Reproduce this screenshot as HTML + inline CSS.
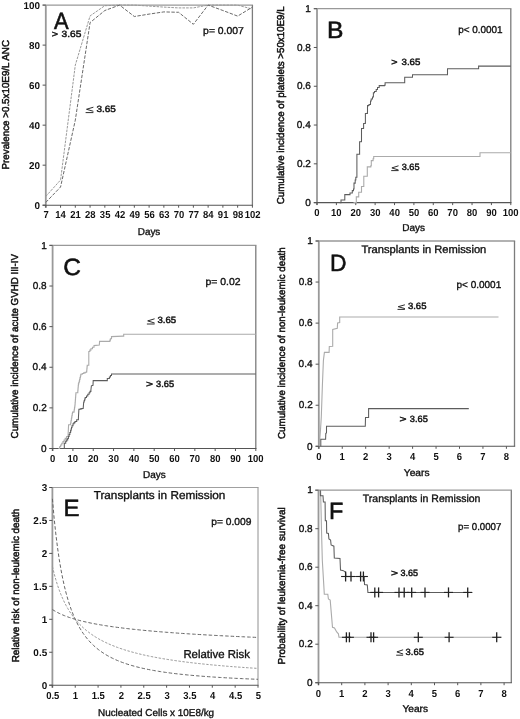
<!DOCTYPE html><html><head><meta charset="utf-8"><style>html,body{margin:0;padding:0;background:#fff;}svg{display:block;filter:blur(0.4px);}text{font-family:"Liberation Sans",sans-serif;text-rendering:geometricPrecision;}</style></head><body>
<svg width="520" height="719" viewBox="0 0 520 719">
<rect width="520" height="719" fill="#fff"/>
<line x1="42.60" y1="5.10" x2="253.05" y2="5.10" stroke="#999999" stroke-width="1.3" />
<line x1="252.40" y1="5.10" x2="252.40" y2="205.20" stroke="#7c7c7c" stroke-width="1.3" />
<line x1="45.80" y1="5.10" x2="45.80" y2="207.70" stroke="#999999" stroke-width="1.8" />
<line x1="42.60" y1="205.20" x2="253.05" y2="205.20" stroke="#555555" stroke-width="1.1" />
<line x1="45.80" y1="205.20" x2="45.80" y2="207.70" stroke="#555" stroke-width="1" />
<text x="43.47" y="218.40" font-size="10.2" font-weight="bold" fill="#111" textLength="5.28" lengthAdjust="spacingAndGlyphs">7</text>
<line x1="60.56" y1="205.20" x2="60.56" y2="207.70" stroke="#555" stroke-width="1" />
<text x="55.31" y="218.40" font-size="10.2" font-weight="bold" fill="#111" textLength="10.55" lengthAdjust="spacingAndGlyphs">14</text>
<line x1="75.31" y1="205.20" x2="75.31" y2="207.70" stroke="#555" stroke-width="1" />
<text x="70.30" y="218.40" font-size="10.2" font-weight="bold" fill="#111" textLength="10.55" lengthAdjust="spacingAndGlyphs">21</text>
<line x1="90.07" y1="205.20" x2="90.07" y2="207.70" stroke="#555" stroke-width="1" />
<text x="85.08" y="218.40" font-size="10.2" font-weight="bold" fill="#111" textLength="10.55" lengthAdjust="spacingAndGlyphs">28</text>
<line x1="104.83" y1="205.20" x2="104.83" y2="207.70" stroke="#555" stroke-width="1" />
<text x="99.86" y="218.40" font-size="10.2" font-weight="bold" fill="#111" textLength="10.55" lengthAdjust="spacingAndGlyphs">35</text>
<line x1="119.59" y1="205.20" x2="119.59" y2="207.70" stroke="#555" stroke-width="1" />
<text x="114.74" y="218.40" font-size="10.2" font-weight="bold" fill="#111" textLength="10.55" lengthAdjust="spacingAndGlyphs">42</text>
<line x1="134.34" y1="205.20" x2="134.34" y2="207.70" stroke="#555" stroke-width="1" />
<text x="129.47" y="218.40" font-size="10.2" font-weight="bold" fill="#111" textLength="10.55" lengthAdjust="spacingAndGlyphs">49</text>
<line x1="149.10" y1="205.20" x2="149.10" y2="207.70" stroke="#555" stroke-width="1" />
<text x="144.16" y="218.40" font-size="10.2" font-weight="bold" fill="#111" textLength="10.55" lengthAdjust="spacingAndGlyphs">56</text>
<line x1="163.86" y1="205.20" x2="163.86" y2="207.70" stroke="#555" stroke-width="1" />
<text x="158.89" y="218.40" font-size="10.2" font-weight="bold" fill="#111" textLength="10.55" lengthAdjust="spacingAndGlyphs">63</text>
<line x1="178.61" y1="205.20" x2="178.61" y2="207.70" stroke="#555" stroke-width="1" />
<text x="173.63" y="218.40" font-size="10.2" font-weight="bold" fill="#111" textLength="10.55" lengthAdjust="spacingAndGlyphs">70</text>
<line x1="193.37" y1="205.20" x2="193.37" y2="207.70" stroke="#555" stroke-width="1" />
<text x="188.41" y="218.40" font-size="10.2" font-weight="bold" fill="#111" textLength="10.55" lengthAdjust="spacingAndGlyphs">77</text>
<line x1="208.13" y1="205.20" x2="208.13" y2="207.70" stroke="#555" stroke-width="1" />
<text x="203.05" y="218.40" font-size="10.2" font-weight="bold" fill="#111" textLength="10.55" lengthAdjust="spacingAndGlyphs">84</text>
<line x1="222.89" y1="205.20" x2="222.89" y2="207.70" stroke="#555" stroke-width="1" />
<text x="217.87" y="218.40" font-size="10.2" font-weight="bold" fill="#111" textLength="10.55" lengthAdjust="spacingAndGlyphs">91</text>
<line x1="237.64" y1="205.20" x2="237.64" y2="207.70" stroke="#555" stroke-width="1" />
<text x="232.65" y="218.40" font-size="10.2" font-weight="bold" fill="#111" textLength="10.55" lengthAdjust="spacingAndGlyphs">98</text>
<line x1="252.40" y1="205.20" x2="252.40" y2="207.70" stroke="#555" stroke-width="1" />
<text x="244.68" y="218.40" font-size="10.2" font-weight="bold" fill="#111" textLength="15.83" lengthAdjust="spacingAndGlyphs">102</text>
<line x1="42.60" y1="205.20" x2="45.80" y2="205.20" stroke="#555" stroke-width="1" />
<text x="34.50" y="208.60" font-size="9.9" font-weight="bold" fill="#111" textLength="5.51" lengthAdjust="spacingAndGlyphs">0</text>
<line x1="42.60" y1="165.18" x2="45.80" y2="165.18" stroke="#555" stroke-width="1" />
<text x="29.01" y="168.58" font-size="9.9" font-weight="bold" fill="#111" textLength="11.01" lengthAdjust="spacingAndGlyphs">20</text>
<line x1="42.60" y1="125.16" x2="45.80" y2="125.16" stroke="#555" stroke-width="1" />
<text x="29.01" y="128.56" font-size="9.9" font-weight="bold" fill="#111" textLength="11.01" lengthAdjust="spacingAndGlyphs">40</text>
<line x1="42.60" y1="85.14" x2="45.80" y2="85.14" stroke="#555" stroke-width="1" />
<text x="29.01" y="88.54" font-size="9.9" font-weight="bold" fill="#111" textLength="11.01" lengthAdjust="spacingAndGlyphs">60</text>
<line x1="42.60" y1="45.12" x2="45.80" y2="45.12" stroke="#555" stroke-width="1" />
<text x="29.01" y="48.52" font-size="9.9" font-weight="bold" fill="#111" textLength="11.01" lengthAdjust="spacingAndGlyphs">80</text>
<line x1="42.60" y1="5.10" x2="45.80" y2="5.10" stroke="#555" stroke-width="1" />
<text x="23.51" y="8.50" font-size="9.9" font-weight="bold" fill="#111" textLength="16.52" lengthAdjust="spacingAndGlyphs">100</text>
<path d="M45.80,196.40 L60.56,179.99 L75.31,65.13 L90.07,15.91 L104.83,5.70 L119.59,5.10 L134.34,5.10 L149.10,6.10 L163.86,7.10 L178.61,7.90 L193.37,7.90 L208.13,5.10 L222.89,5.10 L237.64,5.10 L252.40,9.10" fill="none" stroke="#9a9a9a" stroke-width="1.0" stroke-dasharray="2.6 1.1"/>
<path d="M45.80,202.40 L60.56,186.99 L75.31,120.16 L90.07,22.61 L104.83,10.50 L119.59,5.10 L134.34,16.51 L149.10,14.10 L163.86,11.90 L178.61,12.30 L193.37,24.31 L208.13,5.10 L222.89,10.50 L237.64,16.11 L252.40,7.10" fill="none" stroke="#6a6a6a" stroke-width="1.0" stroke-dasharray="3.4 1.5"/>
<text x="53.99" y="28.60" font-size="23.5" fill="#111" stroke="#111" stroke-width="0.55" textLength="14.65" lengthAdjust="spacingAndGlyphs">A</text>
<text x="51.86" y="36.60" font-size="9.0" fill="#111" stroke="#111" stroke-width="0.45" textLength="6.26" lengthAdjust="spacingAndGlyphs">&gt;</text>
<text x="61.59" y="36.60" font-size="9.0" fill="#111" stroke="#111" stroke-width="0.45" textLength="19.83" lengthAdjust="spacingAndGlyphs">3.65</text>
<path d="M93.40,107.20 L86.50,109.25 L93.40,111.30" fill="none" stroke="#222" stroke-width="0.95" stroke-linejoin="miter"/>
<line x1="85.60" y1="112.60" x2="93.40" y2="112.60" stroke="#222" stroke-width="0.95"/>
<text x="96.50" y="111.80" font-size="9.0" fill="#111" stroke="#111" stroke-width="0.45" textLength="19.41" lengthAdjust="spacingAndGlyphs">3.65</text>
<text x="203.13" y="33.60" font-size="10" fill="#111" stroke="#111" stroke-width="0.35" textLength="40.70" lengthAdjust="spacingAndGlyphs">p= 0.007</text>
<text x="137.81" y="234.60" font-size="10" fill="#111" stroke="#111" stroke-width="0.35" textLength="22.52" lengthAdjust="spacingAndGlyphs">Days</text>
<text transform="translate(9.00,169.48) rotate(-90)" x="0" y="0" font-size="10" fill="#111" stroke="#111" stroke-width="0.5" textLength="129.49" lengthAdjust="spacingAndGlyphs">Prevalence &gt;0.5x10E9/L ANC</text>
<line x1="313.80" y1="8.70" x2="511.45" y2="8.70" stroke="#999999" stroke-width="1.3" />
<line x1="510.80" y1="8.70" x2="510.80" y2="202.60" stroke="#7c7c7c" stroke-width="1.3" />
<line x1="317.00" y1="8.70" x2="317.00" y2="205.10" stroke="#999999" stroke-width="1.8" />
<line x1="313.80" y1="202.60" x2="511.45" y2="202.60" stroke="#555555" stroke-width="1.1" />
<line x1="317.00" y1="202.60" x2="317.00" y2="205.10" stroke="#555" stroke-width="1" />
<text x="314.37" y="215.60" font-size="10.2" font-weight="bold" fill="#111" textLength="5.28" lengthAdjust="spacingAndGlyphs">0</text>
<line x1="336.38" y1="202.60" x2="336.38" y2="205.10" stroke="#555" stroke-width="1" />
<text x="331.00" y="215.60" font-size="10.2" font-weight="bold" fill="#111" textLength="10.55" lengthAdjust="spacingAndGlyphs">10</text>
<line x1="355.76" y1="202.60" x2="355.76" y2="205.10" stroke="#555" stroke-width="1" />
<text x="350.52" y="215.60" font-size="10.2" font-weight="bold" fill="#111" textLength="10.55" lengthAdjust="spacingAndGlyphs">20</text>
<line x1="375.14" y1="202.60" x2="375.14" y2="205.10" stroke="#555" stroke-width="1" />
<text x="369.95" y="215.60" font-size="10.2" font-weight="bold" fill="#111" textLength="10.55" lengthAdjust="spacingAndGlyphs">30</text>
<line x1="394.52" y1="202.60" x2="394.52" y2="205.10" stroke="#555" stroke-width="1" />
<text x="389.37" y="215.60" font-size="10.2" font-weight="bold" fill="#111" textLength="10.55" lengthAdjust="spacingAndGlyphs">40</text>
<line x1="413.90" y1="202.60" x2="413.90" y2="205.10" stroke="#555" stroke-width="1" />
<text x="408.68" y="215.60" font-size="10.2" font-weight="bold" fill="#111" textLength="10.55" lengthAdjust="spacingAndGlyphs">50</text>
<line x1="433.28" y1="202.60" x2="433.28" y2="205.10" stroke="#555" stroke-width="1" />
<text x="428.04" y="215.60" font-size="10.2" font-weight="bold" fill="#111" textLength="10.55" lengthAdjust="spacingAndGlyphs">60</text>
<line x1="452.66" y1="202.60" x2="452.66" y2="205.10" stroke="#555" stroke-width="1" />
<text x="447.37" y="215.60" font-size="10.2" font-weight="bold" fill="#111" textLength="10.55" lengthAdjust="spacingAndGlyphs">70</text>
<line x1="472.04" y1="202.60" x2="472.04" y2="205.10" stroke="#555" stroke-width="1" />
<text x="466.82" y="215.60" font-size="10.2" font-weight="bold" fill="#111" textLength="10.55" lengthAdjust="spacingAndGlyphs">80</text>
<line x1="491.42" y1="202.60" x2="491.42" y2="205.10" stroke="#555" stroke-width="1" />
<text x="486.18" y="215.60" font-size="10.2" font-weight="bold" fill="#111" textLength="10.55" lengthAdjust="spacingAndGlyphs">90</text>
<line x1="510.80" y1="202.60" x2="510.80" y2="205.10" stroke="#555" stroke-width="1" />
<text x="502.78" y="215.60" font-size="10.2" font-weight="bold" fill="#111" textLength="15.83" lengthAdjust="spacingAndGlyphs">100</text>
<line x1="313.80" y1="202.60" x2="317.00" y2="202.60" stroke="#555" stroke-width="1" />
<text x="305.25" y="205.80" font-size="10" fill="#111" stroke="#111" stroke-width="0.35" textLength="5.56" lengthAdjust="spacingAndGlyphs">0</text>
<line x1="313.80" y1="163.82" x2="317.00" y2="163.82" stroke="#555" stroke-width="1" />
<text x="297.00" y="167.02" font-size="10" fill="#111" stroke="#111" stroke-width="0.35" textLength="13.90" lengthAdjust="spacingAndGlyphs">0.2</text>
<line x1="313.80" y1="125.04" x2="317.00" y2="125.04" stroke="#555" stroke-width="1" />
<text x="296.80" y="128.24" font-size="10" fill="#111" stroke="#111" stroke-width="0.35" textLength="13.90" lengthAdjust="spacingAndGlyphs">0.4</text>
<line x1="313.80" y1="86.26" x2="317.00" y2="86.26" stroke="#555" stroke-width="1" />
<text x="296.95" y="89.46" font-size="10" fill="#111" stroke="#111" stroke-width="0.35" textLength="13.90" lengthAdjust="spacingAndGlyphs">0.6</text>
<line x1="313.80" y1="47.48" x2="317.00" y2="47.48" stroke="#555" stroke-width="1" />
<text x="296.90" y="50.68" font-size="10" fill="#111" stroke="#111" stroke-width="0.35" textLength="13.90" lengthAdjust="spacingAndGlyphs">0.8</text>
<line x1="313.80" y1="8.70" x2="317.00" y2="8.70" stroke="#555" stroke-width="1" />
<text x="305.35" y="11.90" font-size="10" fill="#111" stroke="#111" stroke-width="0.35" textLength="5.56" lengthAdjust="spacingAndGlyphs">1</text>
<path d="M353.50,202.60 L356.30,202.60 L356.30,196.90 L358.70,196.90 L358.70,192.30 L361.50,192.30 L361.50,186.50 L363.80,186.50 L363.80,185.00 L363.80,176.20 L366.70,176.20 L367.30,176.20 L367.30,166.90 L370.80,166.90 L370.80,165.80 L371.30,165.80 L371.30,160.60 L373.10,160.60 L373.10,158.80 L373.70,158.80 L373.70,156.50 L480.00,156.50 L480.00,152.80 L510.80,152.80" fill="none" stroke="#ababab" stroke-width="1.1" />
<path d="M339.60,202.60 L341.00,202.60 L341.00,200.00 L344.80,200.00 L344.80,194.60 L348.80,194.60 L350.00,194.60 L350.00,193.00 L352.30,193.00 L352.30,190.60 L353.50,190.60 L353.50,189.00 L354.00,189.00 L354.00,183.10 L355.20,183.10 L355.20,180.00 L355.80,180.00 L355.80,177.30 L356.90,177.30 L356.90,176.20 L356.90,154.20 L359.60,154.20 L359.60,141.80 L361.30,141.80 L361.30,141.50 L361.50,141.50 L361.50,128.50 L363.40,128.50 L363.40,128.20 L363.60,128.20 L363.60,123.50 L365.20,123.50 L365.20,123.20 L365.40,123.20 L365.40,113.40 L367.30,113.40 L367.30,113.10 L367.50,113.10 L367.50,105.60 L368.50,105.60 L368.50,105.00 L369.50,105.00 L369.50,104.50 L370.50,104.50 L370.50,101.00 L371.20,101.00 L371.20,99.00 L372.50,99.00 L372.50,97.00 L373.40,97.00 L373.40,92.80 L374.50,92.80 L374.50,91.50 L376.20,91.50 L376.20,89.50 L377.50,89.50 L377.50,87.50 L379.20,87.50 L379.20,85.60 L384.50,85.60 L384.50,85.20 L385.10,85.20 L385.10,82.80 L404.70,82.80 L404.70,77.30 L412.50,77.30 L412.50,74.70 L447.50,74.70 L447.50,68.70 L478.60,68.70 L478.60,66.10 L510.80,66.10" fill="none" stroke="#5c5c5c" stroke-width="1.05" />
<text x="327.03" y="38.20" font-size="23.5" fill="#111" stroke="#111" stroke-width="0.55" textLength="16.46" lengthAdjust="spacingAndGlyphs">B</text>
<text x="458.15" y="32.70" font-size="10" fill="#111" stroke="#111" stroke-width="0.35" textLength="44.46" lengthAdjust="spacingAndGlyphs">p&lt; 0.0001</text>
<text x="391.26" y="64.70" font-size="9.0" fill="#111" stroke="#111" stroke-width="0.45" textLength="6.26" lengthAdjust="spacingAndGlyphs">&gt;</text>
<text x="401.51" y="64.70" font-size="9.0" fill="#111" stroke="#111" stroke-width="0.45" textLength="18.89" lengthAdjust="spacingAndGlyphs">3.65</text>
<path d="M398.50,165.80 L391.90,167.90 L398.50,170.00" fill="none" stroke="#222" stroke-width="0.95" stroke-linejoin="miter"/>
<line x1="391.20" y1="170.60" x2="398.50" y2="170.60" stroke="#222" stroke-width="0.95"/>
<text x="401.73" y="169.80" font-size="9.0" fill="#111" stroke="#111" stroke-width="0.45" textLength="17.85" lengthAdjust="spacingAndGlyphs">3.65</text>
<text x="402.30" y="231.20" font-size="10" fill="#111" stroke="#111" stroke-width="0.35" textLength="22.84" lengthAdjust="spacingAndGlyphs">Days</text>
<text transform="translate(283.80,204.29) rotate(-90)" x="0" y="0" font-size="10" fill="#111" stroke="#111" stroke-width="0.5" textLength="198.01" lengthAdjust="spacingAndGlyphs">Cumulative incidence of platelets &gt;50x10E9/L</text>
<line x1="49.40" y1="245.40" x2="256.45" y2="245.40" stroke="#999999" stroke-width="1.3" />
<line x1="255.80" y1="245.40" x2="255.80" y2="448.50" stroke="#7c7c7c" stroke-width="1.3" />
<line x1="52.60" y1="245.40" x2="52.60" y2="451.00" stroke="#999999" stroke-width="1.8" />
<line x1="49.40" y1="448.50" x2="256.45" y2="448.50" stroke="#555555" stroke-width="1.1" />
<line x1="52.60" y1="448.50" x2="52.60" y2="451.00" stroke="#555" stroke-width="1" />
<text x="49.97" y="462.00" font-size="10.2" font-weight="bold" fill="#111" textLength="5.28" lengthAdjust="spacingAndGlyphs">0</text>
<line x1="72.92" y1="448.50" x2="72.92" y2="451.00" stroke="#555" stroke-width="1" />
<text x="67.54" y="462.00" font-size="10.2" font-weight="bold" fill="#111" textLength="10.55" lengthAdjust="spacingAndGlyphs">10</text>
<line x1="93.24" y1="448.50" x2="93.24" y2="451.00" stroke="#555" stroke-width="1" />
<text x="88.00" y="462.00" font-size="10.2" font-weight="bold" fill="#111" textLength="10.55" lengthAdjust="spacingAndGlyphs">20</text>
<line x1="113.56" y1="448.50" x2="113.56" y2="451.00" stroke="#555" stroke-width="1" />
<text x="108.37" y="462.00" font-size="10.2" font-weight="bold" fill="#111" textLength="10.55" lengthAdjust="spacingAndGlyphs">30</text>
<line x1="133.88" y1="448.50" x2="133.88" y2="451.00" stroke="#555" stroke-width="1" />
<text x="128.73" y="462.00" font-size="10.2" font-weight="bold" fill="#111" textLength="10.55" lengthAdjust="spacingAndGlyphs">40</text>
<line x1="154.20" y1="448.50" x2="154.20" y2="451.00" stroke="#555" stroke-width="1" />
<text x="148.98" y="462.00" font-size="10.2" font-weight="bold" fill="#111" textLength="10.55" lengthAdjust="spacingAndGlyphs">50</text>
<line x1="174.52" y1="448.50" x2="174.52" y2="451.00" stroke="#555" stroke-width="1" />
<text x="169.28" y="462.00" font-size="10.2" font-weight="bold" fill="#111" textLength="10.55" lengthAdjust="spacingAndGlyphs">60</text>
<line x1="194.84" y1="448.50" x2="194.84" y2="451.00" stroke="#555" stroke-width="1" />
<text x="189.55" y="462.00" font-size="10.2" font-weight="bold" fill="#111" textLength="10.55" lengthAdjust="spacingAndGlyphs">70</text>
<line x1="215.16" y1="448.50" x2="215.16" y2="451.00" stroke="#555" stroke-width="1" />
<text x="209.94" y="462.00" font-size="10.2" font-weight="bold" fill="#111" textLength="10.55" lengthAdjust="spacingAndGlyphs">80</text>
<line x1="235.48" y1="448.50" x2="235.48" y2="451.00" stroke="#555" stroke-width="1" />
<text x="230.24" y="462.00" font-size="10.2" font-weight="bold" fill="#111" textLength="10.55" lengthAdjust="spacingAndGlyphs">90</text>
<line x1="255.80" y1="448.50" x2="255.80" y2="451.00" stroke="#555" stroke-width="1" />
<text x="247.78" y="462.00" font-size="10.2" font-weight="bold" fill="#111" textLength="15.83" lengthAdjust="spacingAndGlyphs">100</text>
<line x1="49.40" y1="448.50" x2="52.60" y2="448.50" stroke="#555" stroke-width="1" />
<text x="41.05" y="451.70" font-size="10" fill="#111" stroke="#111" stroke-width="0.35" textLength="5.56" lengthAdjust="spacingAndGlyphs">0</text>
<line x1="49.40" y1="407.88" x2="52.60" y2="407.88" stroke="#555" stroke-width="1" />
<text x="32.80" y="411.08" font-size="10" fill="#111" stroke="#111" stroke-width="0.35" textLength="13.90" lengthAdjust="spacingAndGlyphs">0.2</text>
<line x1="49.40" y1="367.26" x2="52.60" y2="367.26" stroke="#555" stroke-width="1" />
<text x="32.60" y="370.46" font-size="10" fill="#111" stroke="#111" stroke-width="0.35" textLength="13.90" lengthAdjust="spacingAndGlyphs">0.4</text>
<line x1="49.40" y1="326.64" x2="52.60" y2="326.64" stroke="#555" stroke-width="1" />
<text x="32.75" y="329.84" font-size="10" fill="#111" stroke="#111" stroke-width="0.35" textLength="13.90" lengthAdjust="spacingAndGlyphs">0.6</text>
<line x1="49.40" y1="286.02" x2="52.60" y2="286.02" stroke="#555" stroke-width="1" />
<text x="32.70" y="289.22" font-size="10" fill="#111" stroke="#111" stroke-width="0.35" textLength="13.90" lengthAdjust="spacingAndGlyphs">0.8</text>
<line x1="49.40" y1="245.40" x2="52.60" y2="245.40" stroke="#555" stroke-width="1" />
<text x="41.15" y="248.60" font-size="10" fill="#111" stroke="#111" stroke-width="0.35" textLength="5.56" lengthAdjust="spacingAndGlyphs">1</text>
<path d="M58.40,448.50 L59.53,448.50 L59.53,446.77 L60.67,446.77 L60.67,445.03 L61.80,445.03 L61.80,443.30 L62.93,443.30 L62.93,441.67 L64.07,441.67 L64.07,440.03 L65.20,440.03 L65.20,438.40 L66.65,438.40 L66.65,436.45 L68.10,436.45 L68.10,434.50 L68.60,424.80 L70.50,424.80 L70.50,423.80 L70.79,423.80 L70.79,422.13 L71.07,422.13 L71.07,420.46 L71.36,420.46 L71.36,418.79 L71.64,418.79 L71.64,417.11 L71.93,417.11 L71.93,415.44 L72.21,415.44 L72.21,413.77 L72.50,413.77 L72.50,412.10 L74.00,412.10 L74.00,411.00 L74.25,411.00 L74.25,409.32 L74.50,409.32 L74.50,407.65 L74.75,407.65 L74.75,405.98 L75.00,405.98 L75.00,404.30 L75.13,404.30 L75.13,402.64 L75.26,402.64 L75.26,400.99 L75.39,400.99 L75.39,399.33 L75.51,399.33 L75.51,397.67 L75.64,397.67 L75.64,396.01 L75.77,396.01 L75.77,394.36 L75.90,394.36 L75.90,392.70 L77.80,392.70 L77.80,390.70 L77.95,390.70 L77.95,389.00 L78.10,389.00 L78.10,387.30 L78.25,387.30 L78.25,385.60 L78.40,385.60 L78.40,383.90 L78.80,383.90 L78.80,382.50 L79.20,382.50 L79.20,381.10 L79.60,381.10 L79.60,379.38 L80.00,379.38 L80.00,377.65 L80.40,377.65 L80.40,375.93 L80.80,375.93 L80.80,374.20 L82.25,374.20 L82.25,373.55 L83.70,373.55 L83.70,372.90 L85.15,372.90 L85.15,372.25 L86.60,372.25 L86.60,371.60 L86.75,371.60 L86.75,370.00 L86.90,370.00 L86.90,368.40 L87.05,368.40 L87.05,366.80 L87.20,366.80 L87.20,365.20 L88.80,365.20 L88.80,363.00 L88.80,351.50 L89.85,351.50 L89.85,350.15 L90.90,350.15 L90.90,348.80 L92.45,348.80 L92.45,347.20 L94.00,347.20 L94.00,345.60 L99.30,345.10 L99.60,341.40 L109.40,341.40 L109.90,341.40 L109.90,340.10 L110.40,340.10 L110.40,338.80 L111.50,338.80 L111.50,336.60 L123.10,336.10 L123.70,336.10 L123.70,334.30 L255.80,334.30" fill="none" stroke="#ababab" stroke-width="1.1" />
<path d="M64.30,448.50 L64.30,443.30 L65.70,443.30 L65.70,441.30 L66.70,441.30 L66.70,439.85 L67.70,439.85 L67.70,438.40 L68.40,438.40 L68.40,436.45 L69.10,436.45 L69.10,434.50 L69.85,434.50 L69.85,432.55 L70.60,432.55 L70.60,430.60 L71.07,430.60 L71.07,429.00 L71.53,429.00 L71.53,427.40 L72.00,427.40 L72.00,425.80 L73.00,425.80 L73.00,423.80 L74.00,423.80 L74.00,422.60 L75.00,422.60 L75.00,421.40 L76.70,421.40 L76.70,419.70 L78.40,419.70 L78.40,418.00 L78.90,409.20 L80.33,409.20 L80.33,408.87 L81.77,408.87 L81.77,408.53 L83.20,408.53 L83.20,408.20 L83.70,401.90 L84.20,401.90 L84.20,400.43 L84.70,400.43 L84.70,398.97 L85.20,398.97 L85.20,397.50 L86.50,397.50 L86.50,395.90 L87.80,395.90 L87.80,394.30 L89.10,394.30 L89.10,392.70 L90.00,392.70 L90.00,391.35 L90.90,391.35 L90.90,390.00 L91.40,385.80 L93.00,385.30 L93.20,380.60 L106.20,380.60 L107.30,380.60 L107.30,378.40 L109.40,378.40 L109.40,376.90 L110.45,376.90 L110.45,375.40 L111.50,375.40 L111.50,373.90 L255.80,373.90" fill="none" stroke="#5c5c5c" stroke-width="1.05" />
<text x="63.18" y="275.00" font-size="23.5" fill="#111" stroke="#111" stroke-width="0.55" textLength="17.65" lengthAdjust="spacingAndGlyphs">C</text>
<text x="205.42" y="284.80" font-size="10" fill="#111" stroke="#111" stroke-width="0.35" textLength="35.09" lengthAdjust="spacingAndGlyphs">p= 0.02</text>
<path d="M154.60,318.80 L147.70,320.90 L154.60,323.00" fill="none" stroke="#222" stroke-width="0.95" stroke-linejoin="miter"/>
<line x1="146.90" y1="324.00" x2="154.60" y2="324.00" stroke="#222" stroke-width="0.95"/>
<text x="157.41" y="323.10" font-size="9.0" fill="#111" stroke="#111" stroke-width="0.45" textLength="18.78" lengthAdjust="spacingAndGlyphs">3.65</text>
<text x="145.90" y="387.30" font-size="9.0" fill="#111" stroke="#111" stroke-width="0.45" textLength="6.98" lengthAdjust="spacingAndGlyphs">&gt;</text>
<text x="156.13" y="387.30" font-size="9.0" fill="#111" stroke="#111" stroke-width="0.45" textLength="18.05" lengthAdjust="spacingAndGlyphs">3.65</text>
<text x="143.00" y="478.10" font-size="10" fill="#111" stroke="#111" stroke-width="0.35" textLength="22.73" lengthAdjust="spacingAndGlyphs">Days</text>
<text transform="translate(18.40,438.39) rotate(-90)" x="0" y="0" font-size="10" fill="#111" stroke="#111" stroke-width="0.5" textLength="184.46" lengthAdjust="spacingAndGlyphs">Cumulative incidence of acute GVHD III-IV</text>
<line x1="315.60" y1="241.00" x2="515.15" y2="241.00" stroke="#999999" stroke-width="1.3" />
<line x1="514.50" y1="241.00" x2="514.50" y2="446.30" stroke="#7c7c7c" stroke-width="1.3" />
<line x1="318.80" y1="241.00" x2="318.80" y2="448.80" stroke="#999999" stroke-width="1.8" />
<line x1="315.60" y1="446.30" x2="515.15" y2="446.30" stroke="#555555" stroke-width="1.1" />
<line x1="318.80" y1="446.30" x2="318.80" y2="448.80" stroke="#555" stroke-width="1" />
<text x="316.17" y="459.60" font-size="10.2" font-weight="bold" fill="#111" textLength="5.28" lengthAdjust="spacingAndGlyphs">0</text>
<line x1="342.25" y1="446.30" x2="342.25" y2="448.80" stroke="#555" stroke-width="1" />
<text x="339.43" y="459.60" font-size="10.2" font-weight="bold" fill="#111" textLength="5.28" lengthAdjust="spacingAndGlyphs">1</text>
<line x1="365.70" y1="446.30" x2="365.70" y2="448.80" stroke="#555" stroke-width="1" />
<text x="363.09" y="459.60" font-size="10.2" font-weight="bold" fill="#111" textLength="5.28" lengthAdjust="spacingAndGlyphs">2</text>
<line x1="389.15" y1="446.30" x2="389.15" y2="448.80" stroke="#555" stroke-width="1" />
<text x="386.57" y="459.60" font-size="10.2" font-weight="bold" fill="#111" textLength="5.28" lengthAdjust="spacingAndGlyphs">3</text>
<line x1="412.60" y1="446.30" x2="412.60" y2="448.80" stroke="#555" stroke-width="1" />
<text x="409.92" y="459.60" font-size="10.2" font-weight="bold" fill="#111" textLength="5.28" lengthAdjust="spacingAndGlyphs">4</text>
<line x1="436.05" y1="446.30" x2="436.05" y2="448.80" stroke="#555" stroke-width="1" />
<text x="433.39" y="459.60" font-size="10.2" font-weight="bold" fill="#111" textLength="5.28" lengthAdjust="spacingAndGlyphs">5</text>
<line x1="459.50" y1="446.30" x2="459.50" y2="448.80" stroke="#555" stroke-width="1" />
<text x="456.87" y="459.60" font-size="10.2" font-weight="bold" fill="#111" textLength="5.28" lengthAdjust="spacingAndGlyphs">6</text>
<line x1="482.95" y1="446.30" x2="482.95" y2="448.80" stroke="#555" stroke-width="1" />
<text x="480.32" y="459.60" font-size="10.2" font-weight="bold" fill="#111" textLength="5.28" lengthAdjust="spacingAndGlyphs">7</text>
<line x1="506.40" y1="446.30" x2="506.40" y2="448.80" stroke="#555" stroke-width="1" />
<text x="503.77" y="459.60" font-size="10.2" font-weight="bold" fill="#111" textLength="5.28" lengthAdjust="spacingAndGlyphs">8</text>
<line x1="315.60" y1="446.30" x2="318.80" y2="446.30" stroke="#555" stroke-width="1" />
<text x="307.05" y="449.50" font-size="10" fill="#111" stroke="#111" stroke-width="0.35" textLength="5.56" lengthAdjust="spacingAndGlyphs">0</text>
<line x1="315.60" y1="405.24" x2="318.80" y2="405.24" stroke="#555" stroke-width="1" />
<text x="298.80" y="408.44" font-size="10" fill="#111" stroke="#111" stroke-width="0.35" textLength="13.90" lengthAdjust="spacingAndGlyphs">0.2</text>
<line x1="315.60" y1="364.18" x2="318.80" y2="364.18" stroke="#555" stroke-width="1" />
<text x="298.60" y="367.38" font-size="10" fill="#111" stroke="#111" stroke-width="0.35" textLength="13.90" lengthAdjust="spacingAndGlyphs">0.4</text>
<line x1="315.60" y1="323.12" x2="318.80" y2="323.12" stroke="#555" stroke-width="1" />
<text x="298.75" y="326.32" font-size="10" fill="#111" stroke="#111" stroke-width="0.35" textLength="13.90" lengthAdjust="spacingAndGlyphs">0.6</text>
<line x1="315.60" y1="282.06" x2="318.80" y2="282.06" stroke="#555" stroke-width="1" />
<text x="298.70" y="285.26" font-size="10" fill="#111" stroke="#111" stroke-width="0.35" textLength="13.90" lengthAdjust="spacingAndGlyphs">0.8</text>
<line x1="315.60" y1="241.00" x2="318.80" y2="241.00" stroke="#555" stroke-width="1" />
<text x="307.15" y="244.20" font-size="10" fill="#111" stroke="#111" stroke-width="0.35" textLength="5.56" lengthAdjust="spacingAndGlyphs">1</text>
<path d="M319.20,446.30 L320.50,430.00 L321.30,416.90 L322.40,385.00 L323.40,360.50 L324.40,352.40 L329.10,352.40 L329.30,346.50 L332.70,346.20 L332.70,329.50 L337.30,328.40 L337.60,322.90 L339.70,322.50 L339.70,317.00 L498.50,317.00" fill="none" stroke="#ababab" stroke-width="1.1" />
<path d="M320.80,446.30 L320.80,439.20 L325.60,439.20 L325.80,433.40 L326.50,433.00 L326.50,426.30 L365.30,426.30 L365.50,417.50 L368.60,417.50 L368.60,408.60 L468.80,408.60" fill="none" stroke="#5c5c5c" stroke-width="1.05" />
<text x="329.97" y="271.00" font-size="23.5" fill="#111" stroke="#111" stroke-width="0.55" textLength="16.51" lengthAdjust="spacingAndGlyphs">D</text>
<text x="361.48" y="253.20" font-size="11" fill="#111" stroke="#111" stroke-width="0.35" textLength="124.85" lengthAdjust="spacingAndGlyphs">Transplants in Remission</text>
<text x="456.55" y="287.70" font-size="10" fill="#111" stroke="#111" stroke-width="0.35" textLength="44.66" lengthAdjust="spacingAndGlyphs">p&lt; 0.0001</text>
<path d="M404.90,304.80 L398.20,306.70 L404.90,308.60" fill="none" stroke="#222" stroke-width="0.95" stroke-linejoin="miter"/>
<line x1="397.50" y1="309.40" x2="404.90" y2="309.40" stroke="#222" stroke-width="0.95"/>
<text x="407.92" y="308.50" font-size="9.0" fill="#111" stroke="#111" stroke-width="0.45" textLength="18.58" lengthAdjust="spacingAndGlyphs">3.65</text>
<text x="399.50" y="421.80" font-size="9.0" fill="#111" stroke="#111" stroke-width="0.45" textLength="6.98" lengthAdjust="spacingAndGlyphs">&gt;</text>
<text x="409.83" y="421.80" font-size="9.0" fill="#111" stroke="#111" stroke-width="0.45" textLength="18.05" lengthAdjust="spacingAndGlyphs">3.65</text>
<text x="403.84" y="476.00" font-size="10" fill="#111" stroke="#111" stroke-width="0.35" textLength="25.72" lengthAdjust="spacingAndGlyphs">Years</text>
<text transform="translate(284.70,438.99) rotate(-90)" x="0" y="0" font-size="10" fill="#111" stroke="#111" stroke-width="0.5" textLength="191.75" lengthAdjust="spacingAndGlyphs">Cumulative incidence of non-leukemic death</text>
<line x1="49.20" y1="487.50" x2="258.50" y2="487.50" stroke="#a0a0a0" stroke-width="1.0" />
<line x1="258.00" y1="487.50" x2="258.00" y2="685.20" stroke="#909090" stroke-width="1.0" />
<line x1="52.40" y1="487.50" x2="52.40" y2="687.70" stroke="#999999" stroke-width="1.8" />
<line x1="49.20" y1="685.20" x2="258.50" y2="685.20" stroke="#555555" stroke-width="1.1" />
<line x1="52.40" y1="685.20" x2="52.40" y2="687.70" stroke="#555" stroke-width="1" />
<text x="46.14" y="699.00" font-size="10.2" font-weight="bold" fill="#111" textLength="13.19" lengthAdjust="spacingAndGlyphs">0.5</text>
<line x1="75.24" y1="685.20" x2="75.24" y2="687.70" stroke="#555" stroke-width="1" />
<text x="72.82" y="699.00" font-size="10.2" font-weight="bold" fill="#111" textLength="5.28" lengthAdjust="spacingAndGlyphs">1</text>
<line x1="98.09" y1="685.20" x2="98.09" y2="687.70" stroke="#555" stroke-width="1" />
<text x="91.71" y="699.00" font-size="10.2" font-weight="bold" fill="#111" textLength="13.19" lengthAdjust="spacingAndGlyphs">1.5</text>
<line x1="120.93" y1="685.20" x2="120.93" y2="687.70" stroke="#555" stroke-width="1" />
<text x="118.72" y="699.00" font-size="10.2" font-weight="bold" fill="#111" textLength="5.28" lengthAdjust="spacingAndGlyphs">2</text>
<line x1="143.78" y1="685.20" x2="143.78" y2="687.70" stroke="#555" stroke-width="1" />
<text x="137.54" y="699.00" font-size="10.2" font-weight="bold" fill="#111" textLength="13.19" lengthAdjust="spacingAndGlyphs">2.5</text>
<line x1="166.62" y1="685.20" x2="166.62" y2="687.70" stroke="#555" stroke-width="1" />
<text x="164.44" y="699.00" font-size="10.2" font-weight="bold" fill="#111" textLength="5.28" lengthAdjust="spacingAndGlyphs">3</text>
<line x1="189.47" y1="685.20" x2="189.47" y2="687.70" stroke="#555" stroke-width="1" />
<text x="183.27" y="699.00" font-size="10.2" font-weight="bold" fill="#111" textLength="13.19" lengthAdjust="spacingAndGlyphs">3.5</text>
<line x1="212.31" y1="685.20" x2="212.31" y2="687.70" stroke="#555" stroke-width="1" />
<text x="210.03" y="699.00" font-size="10.2" font-weight="bold" fill="#111" textLength="5.28" lengthAdjust="spacingAndGlyphs">4</text>
<line x1="235.16" y1="685.20" x2="235.16" y2="687.70" stroke="#555" stroke-width="1" />
<text x="229.01" y="699.00" font-size="10.2" font-weight="bold" fill="#111" textLength="13.19" lengthAdjust="spacingAndGlyphs">4.5</text>
<line x1="258.00" y1="685.20" x2="258.00" y2="687.70" stroke="#555" stroke-width="1" />
<text x="255.74" y="699.00" font-size="10.2" font-weight="bold" fill="#111" textLength="5.28" lengthAdjust="spacingAndGlyphs">5</text>
<line x1="49.20" y1="685.20" x2="52.40" y2="685.20" stroke="#555" stroke-width="1" />
<text x="41.80" y="688.60" font-size="9.9" font-weight="bold" fill="#111" textLength="5.51" lengthAdjust="spacingAndGlyphs">0</text>
<line x1="49.20" y1="652.25" x2="52.40" y2="652.25" stroke="#555" stroke-width="1" />
<text x="33.39" y="655.65" font-size="9.9" font-weight="bold" fill="#111" textLength="13.76" lengthAdjust="spacingAndGlyphs">0.5</text>
<line x1="49.20" y1="619.30" x2="52.40" y2="619.30" stroke="#555" stroke-width="1" />
<text x="41.65" y="622.70" font-size="9.9" font-weight="bold" fill="#111" textLength="5.51" lengthAdjust="spacingAndGlyphs">1</text>
<line x1="49.20" y1="586.35" x2="52.40" y2="586.35" stroke="#555" stroke-width="1" />
<text x="33.39" y="589.75" font-size="9.9" font-weight="bold" fill="#111" textLength="13.76" lengthAdjust="spacingAndGlyphs">1.5</text>
<line x1="49.20" y1="553.40" x2="52.40" y2="553.40" stroke="#555" stroke-width="1" />
<text x="41.80" y="556.80" font-size="9.9" font-weight="bold" fill="#111" textLength="5.51" lengthAdjust="spacingAndGlyphs">2</text>
<line x1="49.20" y1="520.45" x2="52.40" y2="520.45" stroke="#555" stroke-width="1" />
<text x="33.39" y="523.85" font-size="9.9" font-weight="bold" fill="#111" textLength="13.76" lengthAdjust="spacingAndGlyphs">2.5</text>
<line x1="49.20" y1="487.50" x2="52.40" y2="487.50" stroke="#555" stroke-width="1" />
<text x="41.75" y="490.90" font-size="9.9" font-weight="bold" fill="#111" textLength="5.51" lengthAdjust="spacingAndGlyphs">3</text>
<path d="M52.40,498.81 L54.11,517.97 L55.83,534.06 L57.54,547.72 L59.25,559.45 L60.97,569.60 L62.68,578.45 L64.39,586.22 L66.11,593.10 L67.82,599.22 L69.53,604.69 L71.25,609.60 L72.96,614.03 L74.67,618.04 L76.39,621.70 L78.10,625.03 L79.81,628.08 L81.53,630.88 L83.24,633.46 L84.95,635.84 L86.67,638.05 L88.38,640.09 L90.09,641.99 L91.81,643.76 L93.52,645.42 L95.23,646.96 L96.95,648.41 L98.66,649.77 L100.37,651.05 L102.09,652.25 L103.80,653.39 L105.51,654.46 L107.23,655.47 L108.94,656.43 L110.65,657.33 L112.37,658.19 L114.08,659.01 L115.79,659.79 L117.51,660.53 L119.22,661.23 L120.93,661.90 L122.65,662.54 L124.36,663.15 L126.07,663.74 L127.79,664.30 L129.50,664.83 L131.21,665.34 L132.93,665.84 L134.64,666.31 L136.35,666.76 L138.07,667.20 L139.78,667.61 L141.49,668.02 L143.21,668.40 L144.92,668.78 L146.63,669.13 L148.35,669.48 L150.06,669.82 L151.77,670.14 L153.49,670.45 L155.20,670.75 L156.91,671.04 L158.63,671.32 L160.34,671.59 L162.05,671.86 L163.77,672.11 L165.48,672.36 L167.19,672.60 L168.91,672.83 L170.62,673.05 L172.33,673.27 L174.05,673.48 L175.76,673.69 L177.47,673.89 L179.19,674.08 L180.90,674.27 L182.61,674.45 L184.33,674.63 L186.04,674.80 L187.75,674.97 L189.47,675.14 L191.18,675.30 L192.89,675.45 L194.61,675.60 L196.32,675.75 L198.03,675.89 L199.75,676.03 L201.46,676.17 L203.17,676.30 L204.89,676.43 L206.60,676.56 L208.31,676.68 L210.03,676.81 L211.74,676.92 L213.45,677.04 L215.17,677.15 L216.88,677.26 L218.59,677.37 L220.31,677.47 L222.02,677.58 L223.73,677.68 L225.45,677.78 L227.16,677.87 L228.87,677.97 L230.59,678.06 L232.30,678.15 L234.01,678.24 L235.73,678.33 L237.44,678.41 L239.15,678.49 L240.87,678.57 L242.58,678.65 L244.29,678.73 L246.01,678.81 L247.72,678.88 L249.43,678.96 L251.15,679.03 L252.86,679.10 L254.57,679.17 L256.29,679.24 L258.00,679.31" fill="none" stroke="#666" stroke-width="1.0" stroke-dasharray="3.5 2"/>
<path d="M52.40,566.42 L54.11,573.50 L55.83,579.72 L57.54,585.24 L59.25,590.16 L60.97,594.58 L62.68,598.58 L64.39,602.22 L66.11,605.54 L67.82,608.58 L69.53,611.38 L71.25,613.97 L72.96,616.36 L74.67,618.59 L76.39,620.67 L78.10,622.61 L79.81,624.43 L81.53,626.14 L83.24,627.74 L84.95,629.26 L86.67,630.69 L88.38,632.04 L90.09,633.32 L91.81,634.54 L93.52,635.69 L95.23,636.79 L96.95,637.84 L98.66,638.84 L100.37,639.80 L102.09,640.71 L103.80,641.58 L105.51,642.42 L107.23,643.22 L108.94,644.00 L110.65,644.74 L112.37,645.45 L114.08,646.13 L115.79,646.80 L117.51,647.43 L119.22,648.05 L120.93,648.64 L122.65,649.21 L124.36,649.77 L126.07,650.30 L127.79,650.82 L129.50,651.32 L131.21,651.81 L132.93,652.28 L134.64,652.73 L136.35,653.18 L138.07,653.61 L139.78,654.03 L141.49,654.43 L143.21,654.83 L144.92,655.21 L146.63,655.58 L148.35,655.95 L150.06,656.30 L151.77,656.65 L153.49,656.98 L155.20,657.31 L156.91,657.63 L158.63,657.94 L160.34,658.24 L162.05,658.54 L163.77,658.83 L165.48,659.11 L167.19,659.39 L168.91,659.66 L170.62,659.92 L172.33,660.18 L174.05,660.43 L175.76,660.68 L177.47,660.92 L179.19,661.16 L180.90,661.39 L182.61,661.62 L184.33,661.84 L186.04,662.06 L187.75,662.27 L189.47,662.48 L191.18,662.68 L192.89,662.88 L194.61,663.08 L196.32,663.28 L198.03,663.46 L199.75,663.65 L201.46,663.83 L203.17,664.01 L204.89,664.19 L206.60,664.36 L208.31,664.53 L210.03,664.70 L211.74,664.86 L213.45,665.02 L215.17,665.18 L216.88,665.34 L218.59,665.49 L220.31,665.64 L222.02,665.79 L223.73,665.94 L225.45,666.08 L227.16,666.22 L228.87,666.36 L230.59,666.50 L232.30,666.63 L234.01,666.76 L235.73,666.89 L237.44,667.02 L239.15,667.15 L240.87,667.27 L242.58,667.39 L244.29,667.52 L246.01,667.63 L247.72,667.75 L249.43,667.87 L251.15,667.98 L252.86,668.09 L254.57,668.20 L256.29,668.31 L258.00,668.42" fill="none" stroke="#999" stroke-width="1.0" stroke-dasharray="2.5 1.5"/>
<path d="M52.40,609.50 L54.11,610.59 L55.83,611.59 L57.54,612.51 L59.25,613.37 L60.97,614.17 L62.68,614.92 L64.39,615.63 L66.11,616.29 L67.82,616.92 L69.53,617.52 L71.25,618.08 L72.96,618.62 L74.67,619.13 L76.39,619.62 L78.10,620.09 L79.81,620.54 L81.53,620.98 L83.24,621.39 L84.95,621.79 L86.67,622.18 L88.38,622.55 L90.09,622.91 L91.81,623.25 L93.52,623.59 L95.23,623.91 L96.95,624.23 L98.66,624.53 L100.37,624.83 L102.09,625.12 L103.80,625.40 L105.51,625.67 L107.23,625.94 L108.94,626.19 L110.65,626.44 L112.37,626.69 L114.08,626.93 L115.79,627.16 L117.51,627.39 L119.22,627.61 L120.93,627.83 L122.65,628.04 L124.36,628.25 L126.07,628.46 L127.79,628.65 L129.50,628.85 L131.21,629.04 L132.93,629.23 L134.64,629.41 L136.35,629.59 L138.07,629.77 L139.78,629.94 L141.49,630.11 L143.21,630.28 L144.92,630.44 L146.63,630.61 L148.35,630.76 L150.06,630.92 L151.77,631.07 L153.49,631.22 L155.20,631.37 L156.91,631.52 L158.63,631.66 L160.34,631.80 L162.05,631.94 L163.77,632.08 L165.48,632.21 L167.19,632.34 L168.91,632.47 L170.62,632.60 L172.33,632.73 L174.05,632.85 L175.76,632.98 L177.47,633.10 L179.19,633.22 L180.90,633.34 L182.61,633.45 L184.33,633.57 L186.04,633.68 L187.75,633.79 L189.47,633.91 L191.18,634.01 L192.89,634.12 L194.61,634.23 L196.32,634.33 L198.03,634.44 L199.75,634.54 L201.46,634.64 L203.17,634.74 L204.89,634.84 L206.60,634.94 L208.31,635.04 L210.03,635.13 L211.74,635.23 L213.45,635.32 L215.17,635.41 L216.88,635.50 L218.59,635.59 L220.31,635.68 L222.02,635.77 L223.73,635.86 L225.45,635.95 L227.16,636.03 L228.87,636.12 L230.59,636.20 L232.30,636.28 L234.01,636.37 L235.73,636.45 L237.44,636.53 L239.15,636.61 L240.87,636.69 L242.58,636.76 L244.29,636.84 L246.01,636.92 L247.72,637.00 L249.43,637.07 L251.15,637.15 L252.86,637.22 L254.57,637.29 L256.29,637.37 L258.00,637.44" fill="none" stroke="#666" stroke-width="1.0" stroke-dasharray="3.5 2"/>
<text x="63.48" y="516.20" font-size="23.5" fill="#111" stroke="#111" stroke-width="0.55" textLength="16.03" lengthAdjust="spacingAndGlyphs">E</text>
<text x="93.66" y="498.70" font-size="11.5" fill="#111" stroke="#111" stroke-width="0.35" textLength="131.70" lengthAdjust="spacingAndGlyphs">Transplants in Remission</text>
<text x="211.33" y="525.40" font-size="10" fill="#111" stroke="#111" stroke-width="0.35" textLength="40.13" lengthAdjust="spacingAndGlyphs">p= 0.009</text>
<text x="183.39" y="657.60" font-size="11.5" fill="#111" stroke="#111" stroke-width="0.35" textLength="66.61" lengthAdjust="spacingAndGlyphs">Relative Risk</text>
<text x="98.01" y="715.60" font-size="10" fill="#111" stroke="#111" stroke-width="0.35" textLength="116.12" lengthAdjust="spacingAndGlyphs">Nucleated Cells x 10E8/kg</text>
<text transform="translate(18.60,662.29) rotate(-90)" x="0" y="0" font-size="10" fill="#111" stroke="#111" stroke-width="0.5" textLength="153.56" lengthAdjust="spacingAndGlyphs">Relative risk of non-leukemic death</text>
<line x1="315.30" y1="490.20" x2="511.95" y2="490.20" stroke="#999999" stroke-width="1.3" />
<line x1="511.30" y1="490.20" x2="511.30" y2="682.70" stroke="#7c7c7c" stroke-width="1.3" />
<line x1="318.50" y1="490.20" x2="318.50" y2="685.20" stroke="#999999" stroke-width="1.8" />
<line x1="315.30" y1="682.70" x2="511.95" y2="682.70" stroke="#555555" stroke-width="1.1" />
<line x1="318.50" y1="682.70" x2="318.50" y2="685.20" stroke="#555" stroke-width="1" />
<text x="315.87" y="696.60" font-size="10.2" font-weight="bold" fill="#111" textLength="5.28" lengthAdjust="spacingAndGlyphs">0</text>
<line x1="341.70" y1="682.70" x2="341.70" y2="685.20" stroke="#555" stroke-width="1" />
<text x="338.88" y="696.60" font-size="10.2" font-weight="bold" fill="#111" textLength="5.28" lengthAdjust="spacingAndGlyphs">1</text>
<line x1="364.90" y1="682.70" x2="364.90" y2="685.20" stroke="#555" stroke-width="1" />
<text x="362.29" y="696.60" font-size="10.2" font-weight="bold" fill="#111" textLength="5.28" lengthAdjust="spacingAndGlyphs">2</text>
<line x1="388.10" y1="682.70" x2="388.10" y2="685.20" stroke="#555" stroke-width="1" />
<text x="385.52" y="696.60" font-size="10.2" font-weight="bold" fill="#111" textLength="5.28" lengthAdjust="spacingAndGlyphs">3</text>
<line x1="411.30" y1="682.70" x2="411.30" y2="685.20" stroke="#555" stroke-width="1" />
<text x="408.62" y="696.60" font-size="10.2" font-weight="bold" fill="#111" textLength="5.28" lengthAdjust="spacingAndGlyphs">4</text>
<line x1="434.50" y1="682.70" x2="434.50" y2="685.20" stroke="#555" stroke-width="1" />
<text x="431.84" y="696.60" font-size="10.2" font-weight="bold" fill="#111" textLength="5.28" lengthAdjust="spacingAndGlyphs">5</text>
<line x1="457.70" y1="682.70" x2="457.70" y2="685.20" stroke="#555" stroke-width="1" />
<text x="455.07" y="696.60" font-size="10.2" font-weight="bold" fill="#111" textLength="5.28" lengthAdjust="spacingAndGlyphs">6</text>
<line x1="480.90" y1="682.70" x2="480.90" y2="685.20" stroke="#555" stroke-width="1" />
<text x="478.27" y="696.60" font-size="10.2" font-weight="bold" fill="#111" textLength="5.28" lengthAdjust="spacingAndGlyphs">7</text>
<line x1="504.10" y1="682.70" x2="504.10" y2="685.20" stroke="#555" stroke-width="1" />
<text x="501.47" y="696.60" font-size="10.2" font-weight="bold" fill="#111" textLength="5.28" lengthAdjust="spacingAndGlyphs">8</text>
<line x1="315.30" y1="682.70" x2="318.50" y2="682.70" stroke="#555" stroke-width="1" />
<text x="307.05" y="685.90" font-size="10" fill="#111" stroke="#111" stroke-width="0.35" textLength="5.56" lengthAdjust="spacingAndGlyphs">0</text>
<line x1="315.30" y1="644.20" x2="318.50" y2="644.20" stroke="#555" stroke-width="1" />
<text x="298.80" y="647.40" font-size="10" fill="#111" stroke="#111" stroke-width="0.35" textLength="13.90" lengthAdjust="spacingAndGlyphs">0.2</text>
<line x1="315.30" y1="605.70" x2="318.50" y2="605.70" stroke="#555" stroke-width="1" />
<text x="298.60" y="608.90" font-size="10" fill="#111" stroke="#111" stroke-width="0.35" textLength="13.90" lengthAdjust="spacingAndGlyphs">0.4</text>
<line x1="315.30" y1="567.20" x2="318.50" y2="567.20" stroke="#555" stroke-width="1" />
<text x="298.75" y="570.40" font-size="10" fill="#111" stroke="#111" stroke-width="0.35" textLength="13.90" lengthAdjust="spacingAndGlyphs">0.6</text>
<line x1="315.30" y1="528.70" x2="318.50" y2="528.70" stroke="#555" stroke-width="1" />
<text x="298.70" y="531.90" font-size="10" fill="#111" stroke="#111" stroke-width="0.35" textLength="13.90" lengthAdjust="spacingAndGlyphs">0.8</text>
<line x1="315.30" y1="490.20" x2="318.50" y2="490.20" stroke="#555" stroke-width="1" />
<text x="307.15" y="493.40" font-size="10" fill="#111" stroke="#111" stroke-width="0.35" textLength="5.56" lengthAdjust="spacingAndGlyphs">1</text>
<path d="M320.60,490.20 L321.50,530.00 L322.30,560.00 L323.70,583.60 L324.30,594.20 L327.80,594.20 L328.40,599.00 L330.20,600.10 L331.30,613.10 L332.50,627.30 L334.50,628.00 L336.70,632.00 L338.40,633.80 L339.00,637.30 L501.80,637.30" fill="none" stroke="#ababab" stroke-width="1.1" />
<path d="M320.30,490.20 L320.40,495.80 L323.00,495.80 L323.40,502.00 L325.10,502.00 L325.30,520.80 L326.50,520.80 L326.70,533.00 L328.40,533.40 L328.90,538.90 L330.60,540.00 L331.10,545.00 L333.90,546.20 L334.30,557.90 L340.00,558.40 L340.50,570.10 L343.40,570.70 L345.60,572.30 L346.00,576.50 L364.30,576.50 L364.50,584.60 L367.30,585.00 L367.90,592.40 L472.30,592.40" fill="none" stroke="#5c5c5c" stroke-width="1.05" />
<line x1="345.60" y1="571.50" x2="345.60" y2="581.50" stroke="#222" stroke-width="1.3" />
<line x1="341.10" y1="576.50" x2="350.10" y2="576.50" stroke="#222" stroke-width="1.1" />
<line x1="351.00" y1="571.50" x2="351.00" y2="581.50" stroke="#222" stroke-width="1.3" />
<line x1="346.50" y1="576.50" x2="355.50" y2="576.50" stroke="#222" stroke-width="1.1" />
<line x1="360.60" y1="571.50" x2="360.60" y2="581.50" stroke="#222" stroke-width="1.3" />
<line x1="356.10" y1="576.50" x2="365.10" y2="576.50" stroke="#222" stroke-width="1.1" />
<line x1="363.40" y1="571.50" x2="363.40" y2="581.50" stroke="#222" stroke-width="1.3" />
<line x1="358.90" y1="576.50" x2="367.90" y2="576.50" stroke="#222" stroke-width="1.1" />
<line x1="374.80" y1="587.40" x2="374.80" y2="597.40" stroke="#222" stroke-width="1.3" />
<line x1="370.30" y1="592.40" x2="379.30" y2="592.40" stroke="#222" stroke-width="1.1" />
<line x1="378.60" y1="587.40" x2="378.60" y2="597.40" stroke="#222" stroke-width="1.3" />
<line x1="374.10" y1="592.40" x2="383.10" y2="592.40" stroke="#222" stroke-width="1.1" />
<line x1="399.00" y1="587.40" x2="399.00" y2="597.40" stroke="#222" stroke-width="1.3" />
<line x1="394.50" y1="592.40" x2="403.50" y2="592.40" stroke="#222" stroke-width="1.1" />
<line x1="404.20" y1="587.40" x2="404.20" y2="597.40" stroke="#222" stroke-width="1.3" />
<line x1="399.70" y1="592.40" x2="408.70" y2="592.40" stroke="#222" stroke-width="1.1" />
<line x1="411.70" y1="587.40" x2="411.70" y2="597.40" stroke="#222" stroke-width="1.3" />
<line x1="407.20" y1="592.40" x2="416.20" y2="592.40" stroke="#222" stroke-width="1.1" />
<line x1="425.00" y1="587.40" x2="425.00" y2="597.40" stroke="#222" stroke-width="1.3" />
<line x1="420.50" y1="592.40" x2="429.50" y2="592.40" stroke="#222" stroke-width="1.1" />
<line x1="448.50" y1="587.40" x2="448.50" y2="597.40" stroke="#222" stroke-width="1.3" />
<line x1="444.00" y1="592.40" x2="453.00" y2="592.40" stroke="#222" stroke-width="1.1" />
<line x1="467.70" y1="587.40" x2="467.70" y2="597.40" stroke="#222" stroke-width="1.3" />
<line x1="463.20" y1="592.40" x2="472.20" y2="592.40" stroke="#222" stroke-width="1.1" />
<line x1="346.40" y1="632.30" x2="346.40" y2="642.30" stroke="#222" stroke-width="1.3" />
<line x1="341.90" y1="637.30" x2="350.90" y2="637.30" stroke="#222" stroke-width="1.1" />
<line x1="349.40" y1="632.30" x2="349.40" y2="642.30" stroke="#222" stroke-width="1.3" />
<line x1="344.90" y1="637.30" x2="353.90" y2="637.30" stroke="#222" stroke-width="1.1" />
<line x1="371.00" y1="632.30" x2="371.00" y2="642.30" stroke="#222" stroke-width="1.3" />
<line x1="366.50" y1="637.30" x2="375.50" y2="637.30" stroke="#222" stroke-width="1.1" />
<line x1="373.60" y1="632.30" x2="373.60" y2="642.30" stroke="#222" stroke-width="1.3" />
<line x1="369.10" y1="637.30" x2="378.10" y2="637.30" stroke="#222" stroke-width="1.1" />
<line x1="418.30" y1="632.30" x2="418.30" y2="642.30" stroke="#222" stroke-width="1.3" />
<line x1="413.80" y1="637.30" x2="422.80" y2="637.30" stroke="#222" stroke-width="1.1" />
<line x1="449.10" y1="632.30" x2="449.10" y2="642.30" stroke="#222" stroke-width="1.3" />
<line x1="444.60" y1="637.30" x2="453.60" y2="637.30" stroke="#222" stroke-width="1.1" />
<line x1="496.70" y1="632.30" x2="496.70" y2="642.30" stroke="#222" stroke-width="1.3" />
<line x1="492.20" y1="637.30" x2="501.20" y2="637.30" stroke="#222" stroke-width="1.1" />
<text x="329.12" y="518.60" font-size="23.5" fill="#111" stroke="#111" stroke-width="0.55" textLength="14.34" lengthAdjust="spacingAndGlyphs">F</text>
<text x="362.79" y="502.00" font-size="10.5" fill="#111" stroke="#111" stroke-width="0.35" textLength="117.69" lengthAdjust="spacingAndGlyphs">Transplants in Remission</text>
<text x="458.07" y="530.00" font-size="10" fill="#111" stroke="#111" stroke-width="0.35" textLength="43.23" lengthAdjust="spacingAndGlyphs">p= 0.0007</text>
<text x="390.90" y="576.10" font-size="9.0" fill="#111" stroke="#111" stroke-width="0.45" textLength="6.98" lengthAdjust="spacingAndGlyphs">&gt;</text>
<text x="400.44" y="576.10" font-size="9.0" fill="#111" stroke="#111" stroke-width="0.45" textLength="17.64" lengthAdjust="spacingAndGlyphs">3.65</text>
<path d="M403.10,649.80 L396.90,651.90 L403.10,654.00" fill="none" stroke="#222" stroke-width="0.95" stroke-linejoin="miter"/>
<line x1="396.20" y1="655.20" x2="403.10" y2="655.20" stroke="#222" stroke-width="0.95"/>
<text x="405.62" y="654.60" font-size="9.0" fill="#111" stroke="#111" stroke-width="0.45" textLength="18.26" lengthAdjust="spacingAndGlyphs">3.65</text>
<text x="402.45" y="712.30" font-size="10" fill="#111" stroke="#111" stroke-width="0.35" textLength="25.62" lengthAdjust="spacingAndGlyphs">Years</text>
<text transform="translate(284.70,664.50) rotate(-90)" x="0" y="0" font-size="10" fill="#111" stroke="#111" stroke-width="0.5" textLength="157.14" lengthAdjust="spacingAndGlyphs">Probability of leukemia-free survival</text>
</svg></body></html>
